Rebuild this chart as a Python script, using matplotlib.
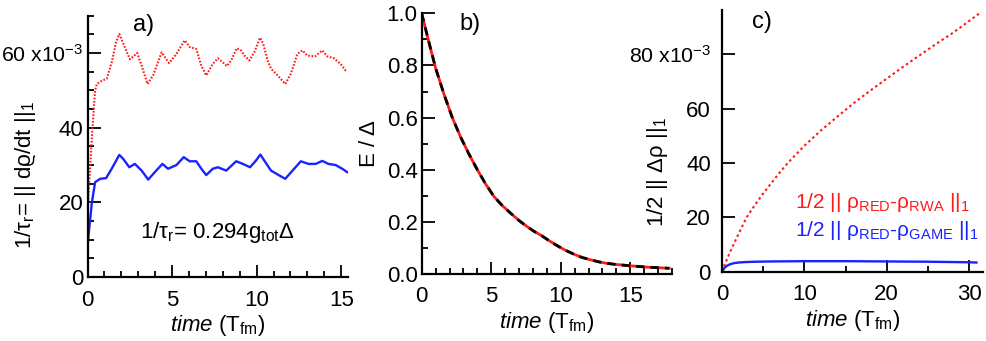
import matplotlib
matplotlib.use("Agg")
import matplotlib.pyplot as plt
from matplotlib.ticker import MultipleLocator, FixedLocator

plt.rcParams['font.family'] = ['Liberation Sans', 'DejaVu Sans']
plt.rcParams['mathtext.fontset'] = 'custom'
plt.rcParams['mathtext.rm'] = 'Liberation Sans'
plt.rcParams['mathtext.it'] = 'Liberation Sans:italic'
plt.rcParams['mathtext.bf'] = 'Liberation Sans:bold'

# ---------------- data ----------------
# panel a: relaxation rate (x1e-3)
t_a_red = [0, 0.1, 0.2, 0.29, 0.45, 0.55, 0.85, 1.14, 1.43, 1.69, 1.88, 2.12, 2.51, 2.94,
           3.2, 3.55, 3.88, 4.38, 4.82, 5.26, 5.75, 6.04, 6.43, 6.73, 7.02, 7.41, 7.71,
           8.0, 8.24, 8.49, 8.82, 9.08, 9.28, 9.57, 9.86, 10.2, 10.39, 10.65, 10.85,
           11.24, 11.69, 12.02, 12.41, 12.71, 13.0, 13.45, 13.88, 14.18, 14.57, 14.96,
           15.26, 15.35]
rate_red = [16.4, 25, 33, 39.7, 50, 51.7, 52.6, 53.1, 57.5, 62.9, 65.1, 62.5, 58.3, 60.0,
            56.6, 51.7, 54.0, 60.2, 57.3, 59.8, 63.4, 61.6, 61.1, 56.6, 54.0, 57.1, 58.6,
            57.5, 56.5, 58.0, 61.3, 60.7, 59.3, 58.0, 60.2, 64.1, 62.5, 58.0, 55.8,
            54.0, 51.7, 54.4, 59.8, 60.7, 59.3, 59.1, 60.7, 59.1, 58.6, 57.1,
            55.3, 55.0]
t_a_blue = [0, 0.26, 0.45, 0.75, 1.1, 1.43, 1.88, 2.12, 2.47, 2.8, 3.2, 3.59, 3.98, 4.43,
            4.76, 5.26, 5.69, 6.04, 6.43, 6.73, 7.02, 7.41, 7.71, 8.2, 8.79, 9.18, 9.61,
            9.96, 10.22, 10.45, 10.85, 11.34, 11.69, 12.12, 12.61, 13.06, 13.49, 13.88,
            14.24, 14.67, 15.06, 15.35]
rate_blue = [8.4, 20, 25.4, 26.3, 26.5, 29.0, 32.7, 31.6, 29.4, 30.3, 28.5, 26.1, 28.1, 30.3,
             29.0, 30.0, 32.1, 31.0, 31.0, 29.0, 27.3, 29.0, 29.4, 28.5, 31.0, 30.3, 29.4,
             31.2, 32.8, 31.2, 28.5, 27.2, 26.3, 28.5, 31.0, 30.3, 30.3, 31.1,
             30.3, 30.0, 29.0, 28.1]

# panel b: energy decay
t_b = [0, 0.5, 1.0, 1.6, 2.2, 2.8, 3.4, 4.0, 4.6, 5.2, 5.8, 6.4, 7.0, 7.6, 8.1, 8.6, 9.1,
       9.7, 10.3, 10.9, 11.5, 12.1, 12.7, 13.3, 13.9, 14.5, 15.1, 16.3, 17.8]
E_red = [1.0, 0.893, 0.79, 0.69, 0.60, 0.525, 0.46, 0.40, 0.345, 0.297, 0.262, 0.233, 0.205,
         0.181, 0.163, 0.148, 0.130, 0.110, 0.092, 0.077, 0.064, 0.055, 0.047, 0.041,
         0.037, 0.034, 0.031, 0.026, 0.022]
E_black = [1.0, 0.893, 0.79, 0.69, 0.60, 0.525, 0.46, 0.40, 0.345, 0.297, 0.262, 0.233, 0.205,
           0.181, 0.163, 0.148, 0.130, 0.110, 0.092, 0.077, 0.064, 0.055, 0.047, 0.041,
           0.037, 0.034, 0.031, 0.026, 0.022]

# panel c: trace distances (x1e-3)
t_c_red = [0, 0.5, 1, 2, 3, 4, 5, 6, 7, 8, 10, 12, 14, 16, 18, 20, 22, 24, 26, 28, 30, 31.5]
d_rwa = [0, 3.8, 7.3, 13.8, 20, 24.5, 28.7, 32.6, 36.4, 40, 46.3, 51.9, 57, 62, 66.6, 71,
         75.4, 79.6, 83.8, 87.8, 92.2, 95.6]
t_c_blue = [0, 0.3, 0.6, 1, 1.5, 2, 3, 4, 6, 10, 15, 20, 25, 30, 30.9]
d_game = [0, 1.3, 2.1, 2.7, 3.1, 3.3, 3.5, 3.6, 3.7, 3.8, 3.8, 3.7, 3.6, 3.4, 3.3]

yt_a = [0, 20, 40, 60]
yt_a_labels = ['0', '20', '40', r'60 x10$^{\mathregular{-3}}$']
yt_c = [0, 20, 40, 60, 80]
yt_c_labels = ['0', '20', '40', '60', r'80 x10$^{\mathregular{-3}}$']

# ---------------- figure ----------------
W, H = 987, 341
fig = plt.figure(figsize=(W / 100, H / 100), dpi=100)


def px_axes(l, r, b, t):
    return fig.add_axes([l / W, 1 - b / H, (r - l) / W, (b - t) / H])


FS = 16
RED = '#ff1a1a'
BLUE = '#1a22ff'


def style(ax):
    for s in ['top', 'right']:
        ax.spines[s].set_visible(False)
    for s in ['left', 'bottom']:
        ax.spines[s].set_linewidth(1.6)
    ax.tick_params(which='both', direction='in', width=1.3, labelsize=FS)
    ax.tick_params(which='major', length=9)
    ax.tick_params(which='minor', length=4.5)
    ax.tick_params(axis='x', which='both', pad=9)


xlab = r'$\it{time}$ (T$_{\mathregular{fm}}$)'

# ---- panel a ----
axa = px_axes(87.5, 348, 277, 15.7)
axa.plot(t_a_red, rate_red, color=RED, lw=1.5, ls=(0, (0.8, 0.8)))
axa.plot(t_a_blue, rate_blue, color=BLUE, lw=1.7)
axa.set_xlim(0, 15.4)
axa.set_ylim(0, 70)
style(axa)
axa.xaxis.set_major_locator(FixedLocator([0, 5, 10, 15]))
axa.xaxis.set_minor_locator(MultipleLocator(1))
axa.yaxis.set_major_locator(FixedLocator(yt_a))
axa.set_yticklabels(yt_a_labels)
axa.get_yticklabels()[3].set_fontsize(15.3)
axa.yaxis.set_minor_locator(MultipleLocator(5))
axa.tick_params(axis='y', which='both', pad=3)
axa.set_xlabel(xlab, fontsize=FS, labelpad=2)
axa.set_ylabel(r'1/$\mathregular{\tau_r}$= || dϱ/dt ||$_{\mathregular{1}}$', fontsize=FS)
axa.yaxis.set_label_coords(-0.19, 0.39)
axa.text(0.5, 0.17, r'1/$\mathregular{\tau_r}$= 0.294g$_{\mathregular{tot}}$Δ',
         transform=axa.transAxes, fontsize=FS, ha='center', va='center')

# ---- panel b ----
axb = px_axes(421.7, 672, 274, 13.3)
axb.plot(t_b, E_red, color=RED, lw=2.0)
axb.plot(t_b, E_black, color='black', lw=2.0, ls=(0, (3, 2.2)))
axb.set_xlim(0, 18)
axb.set_ylim(0, 1.0)
style(axb)
axb.xaxis.set_major_locator(FixedLocator([0, 5, 10, 15]))
axb.xaxis.set_minor_locator(MultipleLocator(1))
axb.yaxis.set_major_locator(MultipleLocator(0.2))
axb.yaxis.set_minor_locator(MultipleLocator(0.1))
axb.yaxis.set_major_formatter(matplotlib.ticker.FormatStrFormatter('%.1f'))
axb.tick_params(axis='y', which='both', pad=3)
axb.set_xlabel(xlab, fontsize=FS, labelpad=2)
axb.set_ylabel('E / Δ', fontsize=FS)
axb.yaxis.set_label_coords(-0.165, 0.5)

# ---- panel c ----
axc = px_axes(722, 983, 271.5, 10)
axc.plot(t_c_red, d_rwa, color=RED, lw=1.5, ls=(0, (1.2, 1.4)))
axc.plot(t_c_blue, d_game, color=BLUE, lw=1.7)
axc.set_xlim(0, 31.7)
axc.set_ylim(0, 96.3)
style(axc)
axc.xaxis.set_major_locator(FixedLocator([0, 10, 20, 30]))
axc.xaxis.set_minor_locator(MultipleLocator(5))
axc.yaxis.set_major_locator(FixedLocator(yt_c))
axc.set_yticklabels(yt_c_labels)
axc.get_yticklabels()[4].set_fontsize(15.3)
axc.tick_params(axis='y', which='both', pad=8)
axc.set_xlabel(xlab, fontsize=FS, labelpad=2)
axc.set_ylabel(r'1/2 || Δρ ||$_{\mathregular{1}}$', fontsize=FS)
axc.yaxis.set_label_coords(-0.2, 0.38)
LFS = 15
axc.text(795 / W, 1 - 203 / H,
         r'1/2 || ρ$_{\mathregular{RED}}$-ρ$_{\mathregular{RWA}}$ ||$_{\mathregular{1}}$',
         transform=fig.transFigure, color=RED, fontsize=LFS, ha='left', va='center')
axc.text(795 / W, 1 - 230 / H,
         r'1/2 || ρ$_{\mathregular{RED}}$-ρ$_{\mathregular{GAME}}$ ||$_{\mathregular{1}}$',
         transform=fig.transFigure, color=BLUE, fontsize=LFS, ha='left', va='center')

# panel tags
fig.text(144 / W, 1 - 25 / H, 'a)', fontsize=17, ha='center', va='center')
fig.text(470 / W, 1 - 24 / H, 'b)', fontsize=17, ha='center', va='center')
fig.text(762 / W, 1 - 22 / H, 'c)', fontsize=17, ha='center', va='center')

fig.savefig('out.png', dpi=100)
